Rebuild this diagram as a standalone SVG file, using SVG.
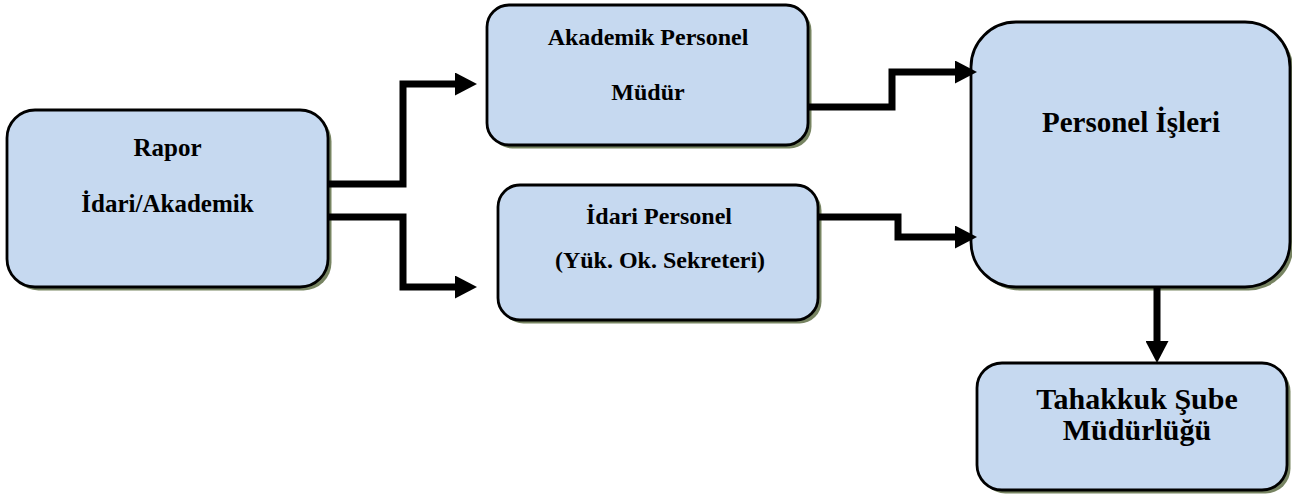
<svg xmlns="http://www.w3.org/2000/svg" width="1292" height="496" viewBox="0 0 1292 496">
  <style>
    .box { fill: #c6d9f0; stroke: #000; stroke-width: 2.8; }
    .shadow { fill: #56663a; opacity: 0.8; filter: url(#soft); }
    .lbl { font-family: "Liberation Serif", "Times New Roman", serif; font-weight: bold; fill: #000; text-anchor: middle; }
    .link { fill: none; stroke: #000; stroke-width: 7; stroke-linejoin: miter; stroke-linecap: butt; marker-end: url(#head); }
  </style>
  <defs>
    <filter id="soft" x="-5%" y="-5%" width="110%" height="110%">
      <feGaussianBlur stdDeviation="0.7"/>
    </filter>
    <marker id="head" viewBox="0 0 22 23" markerWidth="22" markerHeight="23" refX="0" refY="11.5" orient="auto" markerUnits="userSpaceOnUse">
      <path d="M0,0 L22,11.5 L0,23 Z" fill="#000"/>
    </marker>
  </defs>

  <rect width="1292" height="496" fill="#fff"/>

  <g id="rapor">
    <rect class="shadow" x="10.5" y="113.5" width="321" height="177" rx="28"/>
    <rect class="box" x="7" y="110" width="321" height="177" rx="28"/>
    <text class="lbl" x="167.5" y="156" font-size="25">Rapor</text>
    <text class="lbl" x="167.5" y="212" font-size="25">İdari/Akademik</text>
  </g>

  <g id="akademik">
    <rect class="shadow" x="490.5" y="8.5" width="321" height="140" rx="22"/>
    <rect class="box" x="487" y="5" width="321" height="140" rx="22"/>
    <text class="lbl" x="648" y="45" font-size="24">Akademik Personel</text>
    <text class="lbl" x="648" y="100" font-size="24">Müdür</text>
  </g>

  <g id="idari">
    <rect class="shadow" x="501.5" y="188.5" width="320" height="135" rx="22"/>
    <rect class="box" x="498" y="185" width="320" height="135" rx="22"/>
    <text class="lbl" x="659" y="224" font-size="24">İdari Personel</text>
    <text class="lbl" x="660" y="268" font-size="24">(Yük. Ok. Sekreteri)</text>
  </g>

  <g id="personel-isleri">
    <rect class="shadow" x="974.5" y="25.5" width="319" height="265" rx="45"/>
    <rect class="box" x="971" y="22" width="319" height="265" rx="45"/>
    <text class="lbl" x="1131" y="132" font-size="29">Personel İşleri</text>
  </g>

  <g id="tahakkuk">
    <rect class="shadow" x="980.5" y="366.5" width="310" height="127" rx="25"/>
    <rect class="box" x="977" y="363" width="310" height="127" rx="25"/>
    <text class="lbl" x="1137" y="409" font-size="30">Tahakkuk Şube</text>
    <text class="lbl" x="1137" y="440" font-size="30">Müdürlüğü</text>
  </g>

  <g id="connectors">
    <polyline class="link" points="328,184 403,184 403,84 455,84"/>
    <polyline class="link" points="328,217 403,217 403,287 455,287"/>
    <polyline class="link" points="808,107 892,107 892,72 955,72"/>
    <polyline class="link" points="818,217 898,217 898,237 955,237"/>
    <polyline class="link" points="1157,287 1157,341"/>
  </g>
</svg>
